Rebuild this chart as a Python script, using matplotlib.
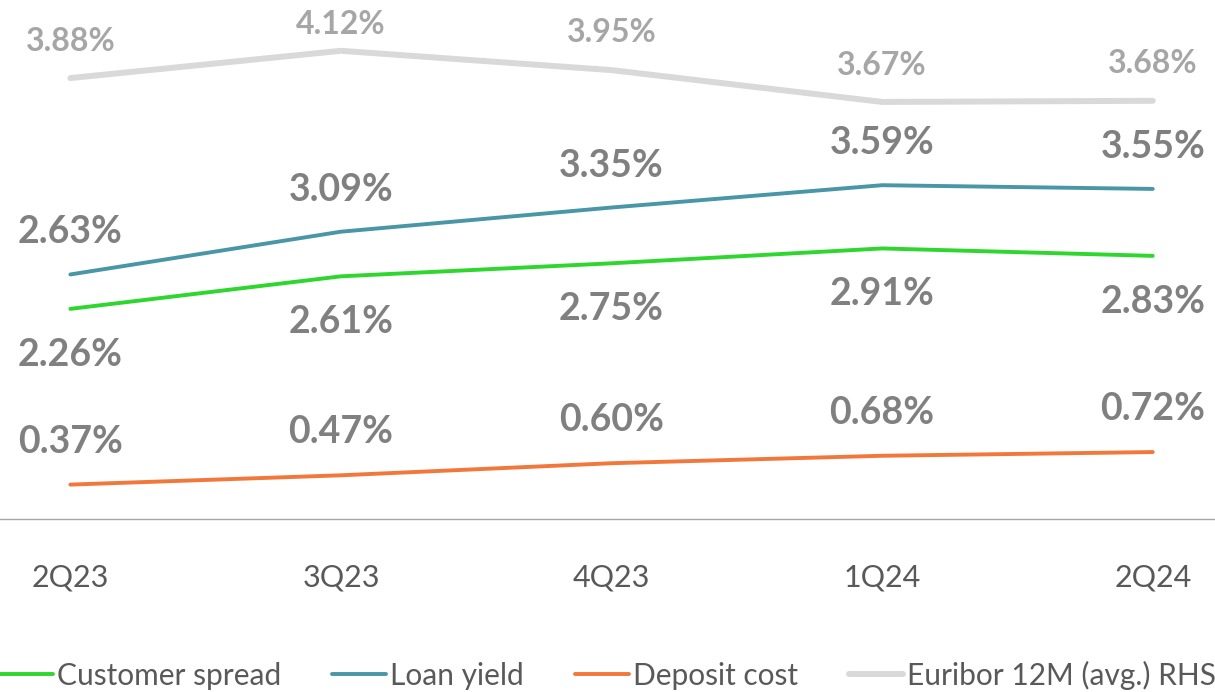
import matplotlib
matplotlib.use("Agg")
import matplotlib.pyplot as plt
from matplotlib.lines import Line2D

quarters = ["2Q23", "3Q23", "4Q23", "1Q24", "2Q24"]
customer_spread = [2.26, 2.61, 2.75, 2.91, 2.83]
loan_yield = [2.63, 3.09, 3.35, 3.59, 3.55]
deposit_cost = [0.37, 0.47, 0.60, 0.68, 0.72]
euribor = [3.88, 4.12, 3.95, 3.67, 3.68]

c_green = "#2ed62e"
c_teal = "#4896a6"
c_orange = "#f2773a"
c_gray = "#d9d9d9"
lab_dark = "#808080"
lab_light = "#a6a6a6"
txt = "#595959"

plt.rcParams['font.family'] = ['Lato', 'DejaVu Sans']

fig = plt.figure(figsize=(12.15, 6.92), dpi=100)
ax = fig.add_axes([0, 0.25, 1, 0.739])
ax2 = ax.twinx()
x = list(range(len(quarters)))

ax.plot(x, customer_spread, color=c_green, lw=2.8, solid_capstyle='round', zorder=3)
ax.plot(x, loan_yield, color=c_teal, lw=2.8, solid_capstyle='round', zorder=3)
ax.plot(x, deposit_cost, color=c_orange, lw=2.8, solid_capstyle='round', zorder=3)
ax2.plot(x, euribor, color=c_gray, lw=4.3, solid_capstyle='round', zorder=2)

ax.set_ylim(0, 5.5)
ax2.set_ylim(0, 4.5)
ax.set_xlim(-0.26, 4.23)

def labels(axis, vals, dy, color, size):
    for xi, v in zip(x, vals):
        axis.annotate(f"{v:.2f}%", (xi, v), xytext=(0, dy), textcoords='offset pixels',
                      ha='center', va='center', fontsize=size, fontweight='bold', color=color,
                      annotation_clip=False)

labels(ax, loan_yield, 42, lab_dark, 27)
labels(ax, customer_spread, -46, lab_dark, 27)
labels(ax, deposit_cost, 43, lab_dark, 27)
eur_off = [37, 26, 38, 36, 37]
for xi, v, o in zip(x, euribor, eur_off):
    ax2.annotate(f"{v:.2f}%", (xi, v), xytext=(0, o), textcoords='offset pixels',
                 ha='center', va='center', fontsize=23, fontweight='bold', color=lab_light,
                 annotation_clip=False)

for a in (ax, ax2):
    for s in a.spines.values():
        s.set_visible(False)
    a.set_yticks([])
ax.spines['bottom'].set_visible(True)
ax.spines['bottom'].set_color("#a6a6a6")
ax.spines['bottom'].set_linewidth(1.0)
ax.set_xticks(x)
ax.set_xticklabels(quarters, fontsize=22, color=txt)
ax.tick_params(axis='x', length=0, pad=32)

handles = [Line2D([], [], color=c_green, lw=2.8, solid_capstyle='round'),
           Line2D([], [], color=c_teal, lw=2.8, solid_capstyle='round'),
           Line2D([], [], color=c_orange, lw=2.8, solid_capstyle='round'),
           Line2D([], [], color=c_gray, lw=4.3, solid_capstyle='round')]
names = ["Customer spread", "Loan yield", "Deposit cost", "Euribor 12M (avg.) RHS"]
fig.legend(handles, names, loc='center', bbox_to_anchor=(0.5, 0.024), ncol=4, frameon=False,
           fontsize=21.5, labelcolor=txt, handlelength=1.8, handletextpad=0.15, columnspacing=1.7)

fig.savefig("out.png", dpi=100, facecolor='white')
